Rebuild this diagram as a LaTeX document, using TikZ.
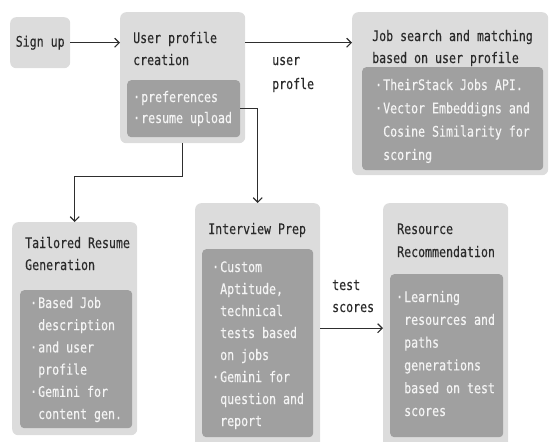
\documentclass[tikz,border=0pt]{standalone}
\usepackage{fontspec}
\usetikzlibrary{arrows.meta}
\newfontfamily\monof[FakeStretch=0.8,FakeBold=0.2]{DejaVu Sans Mono}
\definecolor{outerfill}{HTML}{DCDCDC}
\definecolor{innerfill}{HTML}{A0A0A0}
\definecolor{inktext}{HTML}{2A2A2A}
\definecolor{innertext}{HTML}{F4F4F4}
\definecolor{wire}{HTML}{2E2E2E}
% bullet marker and hanging indent for continuation lines
\newcommand\bul{\makebox[8pt][l]{·}}
\newcommand\ind{\hspace*{8pt}}
% one text node per line: [style]{name}{x}{first baseline y}{line step}{lines}
\newcommand\textlines[6][]{%
  \foreach \t [count=\i from 0] in {#6} {%
    \node[anchor=base west, inner sep=0, #1] (#2-\i) at ({#3},{#4+\i*#5}) {\t};}}
\begin{document}
\begin{tikzpicture}[x=1pt,y=-1pt,
  card/.style={fill=outerfill, rounded corners=6pt, inner sep=0, anchor=north west},
  panel/.style={fill=innerfill, rounded corners=4pt, inner sep=0, anchor=north west},
  label/.style={font=\monof\fontsize{14.5}{17}\selectfont, text=inktext},
  item/.style={font=\monof\fontsize{14.5}{17}\selectfont, text=innertext},
  link/.style={draw=wire, line width=1.2pt, -{Straight Barb[length=4.5pt,width=9pt]}}]
\useasboundingbox (0,0) rectangle (550,442);
\clip (0,0) rectangle (550,442);

% boxes
\node[card, label, minimum width=60pt, minimum height=51pt] (signup) at (10,17) {Sign up};
\node[card, minimum width=125pt, minimum height=131pt] (upc) at (120,12) {};
\node[panel, minimum width=113pt, minimum height=57pt] (prefs) at (127,80) {};
\node[card, minimum width=196pt, minimum height=163pt] (job) at (352,12) {};
\node[panel, minimum width=181pt, minimum height=103pt] (jobpanel) at (362,67) {};
\node[card, minimum width=125pt, minimum height=213pt] (tailored) at (12,222) {};
\node[panel, minimum width=112pt, minimum height=138pt] (tailpanel) at (20,290) {};
\node[card, minimum width=125pt, minimum height=250pt] (interview) at (195,203) {};
\node[panel, minimum width=111pt, minimum height=188pt] (intpanel) at (202,249) {};
\node[card, minimum width=125pt, minimum height=250pt] (resource) at (383,203) {};
\node[panel, minimum width=113pt, minimum height=163pt] (respanel) at (390,274) {};

% titles
\textlines[label]{upctitle}{133}{43}{22}{User profile,creation}
\textlines[label]{jobtitle}{372}{41}{22}{Job search and matching,based on user profile}
\textlines[label]{tailtitle}{25}{248}{22}{Tailored Resume,Generation}
\textlines[label]{inttitle}{208}{234}{22}{Interview Prep}
\textlines[label]{restitle}{397}{234}{23}{Resource,Recommendation}

% panel contents
\textlines[item]{upcitems}{133}{102}{21}{\bul preferences,\bul resume upload}
\textlines[item]{jobitems}{375}{90}{23.3}{\bul TheirStack Jobs API.,\bul Vector Embeddigns and,\ind Cosine Similarity for,\ind scoring}
\textlines[item]{tailitems}{30}{308}{22.2}{\bul Based Job,\ind description,\bul and user,\ind profile,\bul Gemini for,\ind content gen.}
\textlines[item]{intitems}{212}{272}{22}{\bul Custom,{\ind Aptitude,},\ind technical,\ind tests based,\ind on jobs,\bul Gemini for,\ind question and,\ind report}
\textlines[item]{resitems}{396}{302}{22.8}{\bul Learning,\ind resources and,\ind paths,\ind generations,\ind based on test,\ind scores}

% connector labels
\textlines[label]{userlabel}{272}{65}{24}{user,profle}
\textlines[label]{scorelabel}{332}{290}{22}{test,scores}

% connectors
\draw[link] (signup.east) -- (signup.east -| upc.west);
\draw[link] (upc.east |- signup.east) -- (signup.east -| job.west);
\draw[link] (upc.south) -- ++(0,33) -| (tailored.north);
\draw[link] (prefs.east) -| (interview.north);
\draw[link] (interview.east) -- (resource.west);
\end{tikzpicture}
\end{document}
